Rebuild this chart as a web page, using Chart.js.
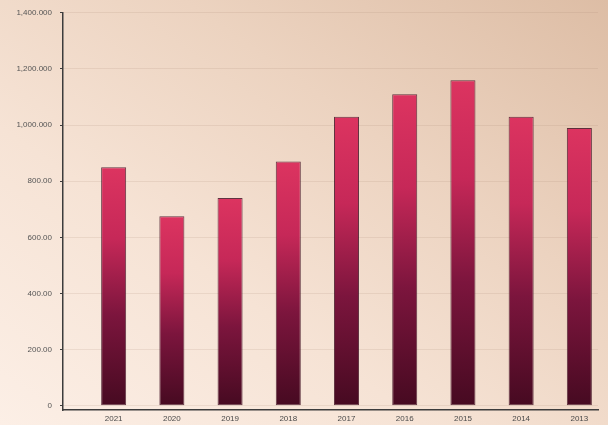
<!DOCTYPE html>
<html>
<head>
<meta charset="utf-8">
<script src="https://cdn.jsdelivr.net/npm/chart.js@4/dist/chart.umd.min.js"></script>
<style>
    html, body {
        margin: 0;
        padding: 0;
        width: 608px;
        height: 425px;
        overflow: hidden;
        background: linear-gradient(215deg, #ddbda5 0%, #ecd3c0 35%, #f6e3d5 65%, #fcefe6 100%);
    }
    #chart-wrap {
        position: relative;
        width: 608px;
        height: 425px;
    }
</style>
</head>
<body>
<div id="chart-wrap">
    <canvas id="years-chart" width="608" height="425"></canvas>
</div>
<script>
// Values per year, left to right
const years = ['2021', '2020', '2019', '2018', '2017', '2016', '2015', '2014', '2013'];
const amounts = [850, 675, 740, 870, 1030, 1110, 1160, 1030, 990];

// Y axis ticks and the labels printed next to them
const yTickValues = [0, 200, 400, 600, 800, 1000, 1200, 1400];
const yTickLabels = ['0', '200.00', '400.00', '600.00', '800.00', '1,000.000', '1,200.000', '1,400.000'];

function barGradient(context) {
    const chart = context.chart;
    if (!chart.chartArea || context.type !== 'data') return '#c22752';

    const yScale = chart.scales.y;
    const top = yScale.getPixelForValue(context.raw.y);
    const base = yScale.getPixelForValue(0);
    const gradient = chart.ctx.createLinearGradient(0, top, 0, base);
    gradient.addColorStop(0, '#dc3460');
    gradient.addColorStop(0.3, '#c62858');
    gradient.addColorStop(0.62, '#7c153d');
    gradient.addColorStop(1, '#460a21');
    return gradient;
}

function initYearsChart() {
    const ctx = document.getElementById('years-chart');

    new Chart(ctx, {
        type: 'bar',
        data: {
            datasets: [{
                data: amounts.map((value, i) => ({ x: i, y: value })),
                backgroundColor: barGradient,
                borderColor: 'rgba(60, 10, 30, 0.8)',
                borderWidth: 1,
                borderSkipped: false,
                barPercentage: 0.43,
                categoryPercentage: 1
            }]
        },
        options: {
            responsive: false,
            animation: false,
            layout: {
                padding: { top: 12, right: 10, bottom: 0, left: 0 }
            },
            plugins: {
                legend: { display: false },
                title: { display: false },
                tooltip: { enabled: false }
            },
            scales: {
                x: {
                    type: 'linear',
                    offset: false,
                    min: -0.87,
                    max: 8.32,
                    afterBuildTicks: (scale) => {
                        scale.ticks = years.map((_, i) => ({ value: i }));
                    },
                    afterFit: (scale) => {
                        scale.height = 15;
                    },
                    ticks: {
                        autoSkip: false,
                        maxRotation: 0,
                        padding: 4,
                        color: '#4a4a4a',
                        font: { family: "'Liberation Sans', sans-serif", size: 8 },
                        callback: (value) => years[value] ?? ''
                    },
                    grid: {
                        display: false,
                        offset: false,
                        drawTicks: false
                    },
                    border: {
                        display: true,
                        color: '#3c3c3c',
                        width: 1.5
                    }
                },
                y: {
                    min: -15,
                    max: 1400,
                    afterBuildTicks: (scale) => {
                        scale.ticks = yTickValues.map(v => ({ value: v }));
                    },
                    afterFit: (scale) => {
                        scale.width = 63;
                    },
                    ticks: {
                        padding: 8,
                        color: '#555555',
                        font: { family: "'Liberation Sans', sans-serif", size: 8 },
                        callback: (value) => yTickLabels[yTickValues.indexOf(value)] ?? ''
                    },
                    grid: {
                        color: 'rgba(160, 125, 105, 0.15)',
                        lineWidth: 1,
                        tickColor: '#3c3c3c',
                        tickLength: 3,
                        tickWidth: 1.2
                    },
                    border: {
                        display: true,
                        color: '#3c3c3c',
                        width: 1.5
                    }
                }
            }
        }
    });
}

initYearsChart();
</script>
</body>
</html>
